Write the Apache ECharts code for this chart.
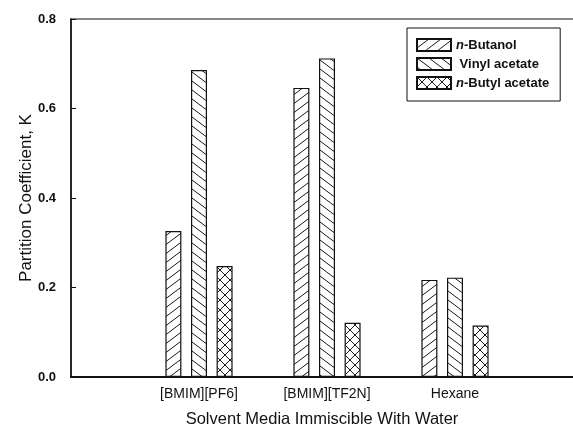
<!DOCTYPE html>
<html>
<head>
<meta charset="utf-8">
<script src="https://cdn.jsdelivr.net/npm/echarts@6/dist/echarts.min.js"></script>
<style>
html,body{margin:0;padding:0;background:#fff;}
#chart{width:573px;height:432px;}
</style>
</head>
<body>
<div id="chart"></div>
<script>
// ---- data ----
var categories = ['', '[BMIM][PF6]', '[BMIM][TF2N]', 'Hexane', ''];
var seriesNames = ['n-Butanol', 'Vinyl acetate', 'n-Butyl acetate'];
var butanol = [null, 0.326, 0.646, 0.217, null];
var vinylAcetate = [null, 0.686, 0.712, 0.222, null];
var butylAcetate = [null, 0.248, 0.121, 0.115, null];
var yTicks = [0.0, 0.2, 0.4, 0.6, 0.8];

// ---- hatch patterns ----
function hatch(kind) {
  var W = kind === 'x' ? 10 : 12, H = kind === 'x' ? 10 : 9;
  var c = document.createElement('canvas');
  c.width = W; c.height = H;
  var ctx = c.getContext('2d');
  ctx.fillStyle = '#fff';
  ctx.fillRect(0, 0, W, H);
  ctx.strokeStyle = '#1a1a1a';
  ctx.lineWidth = 1;
  function fwd() { // '/'
    for (var k = -1; k <= 1; k++) {
      ctx.beginPath();
      ctx.moveTo(-W + k * W, 2 * H);
      ctx.lineTo(2 * W + k * W, -H);
      ctx.stroke();
    }
  }
  function back() { // '\'
    for (var k = -1; k <= 1; k++) {
      ctx.beginPath();
      ctx.moveTo(-W + k * W, -H);
      ctx.lineTo(2 * W + k * W, 2 * H);
      ctx.stroke();
    }
  }
  if (kind === '/') fwd();
  else if (kind === '\\') back();
  else { fwd(); back(); }
  return { image: c, repeat: 'repeat' };
}
var fills = [hatch('/'), hatch('\\'), hatch('x')];
var dataArrays = [butanol, vinylAcetate, butylAcetate];

var chart = echarts.init(document.getElementById('chart'));
var font = 'Liberation Sans, Arial, Helvetica, sans-serif';

var series = seriesNames.map(function (n, i) {
  return {
    name: n,
    type: 'bar',
    barWidth: 16,
    barGap: '60%',
    data: dataArrays[i],
    itemStyle: { color: fills[i], borderColor: '#111', borderWidth: 1.2 },
    emphasis: { disabled: true },
    animation: false
  };
});

chart.setOption({
  animation: false,
  backgroundColor: '#fff',
  grid: { left: 71, top: 19, width: 512, height: 358, outerBoundsMode: 'none', containLabel: false,
    show: true, borderColor: '#111', borderWidth: 1.2, backgroundColor: 'transparent' },
  legend: {
    orient: 'vertical',
    left: 407, top: 28,
    data: seriesNames,
    itemWidth: 34, itemHeight: 12, itemGap: 5, itemTextGap: 3,
    padding: [10, 11, 11, 9],
    borderColor: '#111', borderWidth: 1,
    icon: 'rect',
    formatter: function (n) {
      if (n.indexOf('n-') === 0) return '{i|n}-' + n.slice(2);
      return ' ' + n;
    },
    textStyle: {
      fontFamily: font, fontSize: 13, fontWeight: 'bold', color: '#111',
      rich: { i: { fontFamily: font, fontSize: 13, fontStyle: 'italic', fontWeight: 'bold', color: '#111' } }
    }
  },
  xAxis: {
    type: 'category',
    data: categories,
    boundaryGap: false,
    name: 'Solvent Media Immiscible With Water',
    nameLocation: 'middle',
    nameGap: 34,
    nameMoveOverlap: false,
    nameTextStyle: { fontFamily: font, fontSize: 16.5, color: '#111', padding: [0, 10, 0, 0] },
    axisLine: { lineStyle: { color: '#111', width: 2 } },
    axisTick: { show: false },
    axisLabel: { interval: 0, margin: 10, fontFamily: font, fontSize: 14, color: '#111' },
    splitLine: { show: false }
  },
  yAxis: {
    type: 'value',
    min: yTicks[0], max: yTicks[yTicks.length - 1], interval: 0.2,
    name: 'Partition Coefficient, K',
    nameLocation: 'middle',
    nameGap: 36,
    nameMoveOverlap: false,
    nameTextStyle: { fontFamily: font, fontSize: 17, color: '#111' },
    axisLine: { show: true, lineStyle: { color: '#111', width: 1.5 } },
    axisTick: { show: true, inside: true, length: 5, lineStyle: { color: '#111' } },
    axisLabel: { margin: 15, fontFamily: font, fontSize: 13, fontWeight: 'bold', color: '#111',
      formatter: function (v) { return v.toFixed(1); } },
    splitLine: { show: false }
  },
  series: series
});
</script>
</body>
</html>
